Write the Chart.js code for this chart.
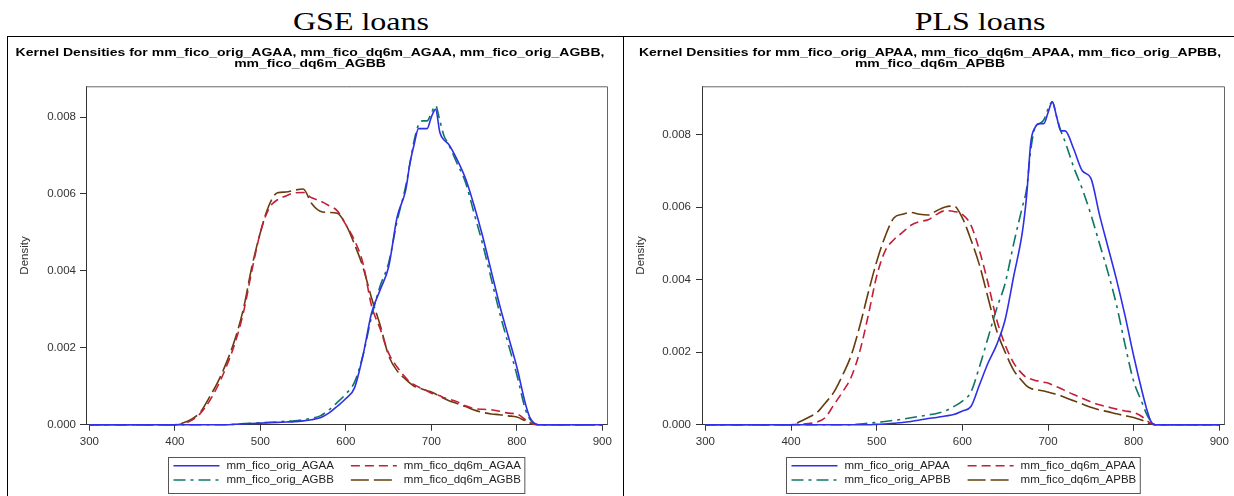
<!DOCTYPE html>
<html lang="en">
<head>
<meta charset="UTF-8">
<title>Kernel densities: GSE vs PLS loans</title>
<script src="https://cdn.jsdelivr.net/npm/chart.js"></script>
<style>
  body { margin: 0; background: #fff; }
  #page { position: relative; width: 1234px; height: 496px; overflow: hidden; }
  .hdr {
    position: absolute; top: 7px;
    font-family: "Liberation Serif", "Times New Roman", serif;
    font-size: 32px; line-height: 36px; white-space: nowrap; color: #000;
    transform-origin: 50% 0; transform: translateX(-50%) scaleY(0.8);
  }
  .ttl {
    position: absolute; top: 46px;
    font-family: "Liberation Sans", Arial, Helvetica, sans-serif;
    font-size: 14px; font-weight: bold; line-height: 14.4px; text-align: center;
    white-space: nowrap; color: #000;
    transform-origin: 50% 0; transform: translateX(-50%) scaleY(0.8);
  }
  .rule { position: absolute; background: #000; }
  canvas { position: absolute; top: 37px; height: 459px; }
</style>
</head>
<body>
<div id="page">
  <div class="hdr" style="left:361px">GSE loans</div>
  <div class="hdr" style="left:980px">PLS loans</div>
  <div class="rule" style="left:7px;top:36px;width:1227px;height:1px"></div>
  <div class="rule" style="left:7px;top:36px;width:1px;height:460px"></div>
  <div class="rule" style="left:623px;top:36px;width:1px;height:460px"></div>
  <canvas id="gse" width="614" height="459" style="left:8px;width:614px"></canvas>
  <canvas id="pls" width="610" height="459" style="left:624px;width:610px"></canvas>
  <div class="ttl" id="gseTitle" style="left:310px"></div>
  <div class="ttl" id="plsTitle" style="left:930px"></div>
</div>

<script>
// FICO grid the curves were read at
const ficoGrid = [300, 400,
  410, 420, 430, 440, 450, 460, 470, 480, 490, 500,
  510, 520, 530, 540, 550, 560, 570, 580, 590, 600,
  610, 620, 630, 640, 650, 660,
  670, 675, 680, 685, 690, 695, 700, 705, 710, 715, 720,
  730, 740, 750, 760, 770, 780, 790, 800,
  810, 815, 820, 825, 830, 900];

// GSE loans
const gseOrigAGAA = [0, 0,
  0, 0, 0, 0, 0, 0, 0.00001, 0.00002, 0.00003, 0.00004,
  0.00005, 0.00006, 0.00007, 0.00008, 0.0001, 0.00013, 0.00018, 0.0003, 0.00048, 0.00068,
  0.00095, 0.0018, 0.0029, 0.0035, 0.0041, 0.0054,
  0.0061, 0.0068, 0.0073, 0.0077, 0.0077, 0.0077, 0.008, 0.0082, 0.0076, 0.0074, 0.0073,
  0.0069, 0.0064, 0.0057, 0.0049, 0.004, 0.0031, 0.0023, 0.0015,
  0.00055, 0.0002, 0.00005, 0, 0, 0];
const gseDq6mAGAA = [0, 0,
  0.00003, 0.00012, 0.0003, 0.0006, 0.001, 0.0015, 0.0021, 0.0029, 0.004, 0.005,
  0.00562, 0.00585, 0.00595, 0.00603, 0.00604, 0.0059, 0.00582, 0.0057, 0.00556, 0.0052,
  0.0048, 0.0042, 0.0031, 0.0025, 0.00186, 0.0015,
  0.00122, 0.0011, 0.00104, 0.00098, 0.00092, 0.00088, 0.00082, 0.00079, 0.00075, 0.0007, 0.00067,
  0.0006, 0.00049, 0.00042, 0.0004, 0.00039, 0.00035, 0.0003, 0.00028,
  0.00013, 0.00006, 0.00001, 0, 0, 0];
const gseOrigAGBB = [0, 0,
  0, 0, 0, 0, 0, 0, 0.00001, 0.00003, 0.00004, 0.00005,
  0.00006, 0.00007, 0.00009, 0.0001, 0.00013, 0.00017, 0.00023, 0.00038, 0.00058, 0.0008,
  0.0011, 0.0018, 0.0028, 0.0036, 0.0042, 0.0053,
  0.0062, 0.0068, 0.0074, 0.0078, 0.0079, 0.0079, 0.0081, 0.0083, 0.0079, 0.0075, 0.0073,
  0.0068, 0.0063, 0.0055, 0.0047, 0.0038, 0.0029, 0.0021, 0.0013,
  0.0004, 0.00015, 0.00003, 0, 0, 0];
const gseDq6mAGBB = [0, 0,
  0.00005, 0.00015, 0.00033, 0.0007, 0.0011, 0.0016, 0.0022, 0.003, 0.0041, 0.005,
  0.0057, 0.00603, 0.00605, 0.0061, 0.00613, 0.00575, 0.00555, 0.00552, 0.0055, 0.0052,
  0.0047, 0.0041, 0.0033, 0.0026, 0.0018, 0.0014,
  0.00118, 0.00108, 0.001, 0.00096, 0.00092, 0.00088, 0.00085, 0.0008, 0.00074, 0.00068, 0.00063,
  0.00055, 0.00047, 0.00038, 0.00032, 0.00028, 0.00026, 0.00023, 0.0002,
  0.0001, 0.00005, 0.00001, 0, 0, 0];

// PLS loans
const plsOrigAPAA = [0, 0,
  0, 0, 0, 0, 0, 0, 0, 0, 0, 0.00001,
  0.00002, 0.00004, 0.00006, 0.00009, 0.00013, 0.00017, 0.0002, 0.00024, 0.00028, 0.00038,
  0.0005, 0.0011, 0.0017, 0.0022, 0.0029, 0.0041,
  0.0053, 0.0063, 0.0078, 0.0082, 0.0083, 0.0083, 0.0086, 0.0089, 0.0085, 0.0081, 0.0081,
  0.0076, 0.007, 0.0068, 0.0058, 0.0049, 0.004, 0.003, 0.0019,
  0.0009, 0.00045, 0.0001, 0, 0, 0];
const plsDq6mAPAA = [0, 0,
  0.00001, 0.00003, 0.00007, 0.0002, 0.00055, 0.0009, 0.0013, 0.002, 0.003, 0.0041,
  0.0048, 0.0051, 0.0053, 0.0055, 0.0056, 0.00565, 0.0058, 0.0059, 0.00588, 0.0058,
  0.0055, 0.0048, 0.0039, 0.0029, 0.0022, 0.0017,
  0.0014, 0.0013, 0.00126, 0.00122, 0.0012, 0.00117, 0.00115, 0.0011, 0.00105, 0.001, 0.00094,
  0.00083, 0.00073, 0.00063, 0.00055, 0.00049, 0.00043, 0.00038, 0.00034,
  0.00022, 0.00012, 0.00004, 0, 0, 0];
const plsOrigAPBB = [0, 0,
  0, 0, 0, 0, 0, 0, 0, 0.00002, 0.00004, 0.00006,
  0.00009, 0.00012, 0.00015, 0.00019, 0.00023, 0.00027, 0.00031, 0.00038, 0.0005, 0.00065,
  0.0009, 0.0016, 0.0024, 0.0032, 0.0039, 0.005,
  0.006, 0.0065, 0.0076, 0.0082, 0.0083, 0.0084, 0.0087, 0.0089, 0.0085, 0.0081, 0.0078,
  0.0071, 0.0065, 0.0058, 0.005, 0.0042, 0.0033, 0.0022, 0.0012,
  0.0006, 0.0003, 0.0001, 0, 0, 0];
const plsDq6mAPBB = [0, 0,
  0.00008, 0.0002, 0.00033, 0.0006, 0.0009, 0.00136, 0.0019, 0.0027, 0.00363, 0.0045,
  0.0052, 0.0057, 0.0058, 0.00585, 0.0058, 0.00578, 0.0059, 0.006, 0.00603, 0.0057,
  0.0051, 0.0044, 0.0035, 0.0026, 0.002, 0.0015,
  0.0012, 0.00107, 0.001, 0.00097, 0.00095, 0.00093, 0.0009, 0.00087, 0.00083, 0.0008, 0.00075,
  0.00066, 0.00057, 0.00048, 0.00041, 0.00036, 0.0003, 0.00025, 0.0002,
  0.00012, 0.00006, 0.00002, 0, 0, 0];

const xTicks = [300, 400, 500, 600, 700, 800, 900];
const yTicks = [0, 0.002, 0.004, 0.006, 0.008];

const FONT = '"Liberation Sans", Arial, Helvetica, sans-serif';
const TOP = 37;                 // page y of the canvases
const Y = a => a - TOP;         // page y -> canvas y

const lineStyles = [
  { color: '#2f2fe8', dash: [] },
  { color: '#c41e3a', dash: [9, 5] },
  { color: '#0f7565', dash: [12, 5, 3, 5] },
  { color: '#663c0c', dash: [18, 5] }
];

// top and right edges of the plot frame
const frameEdges = {
  id: 'frameEdges',
  afterDatasetsDraw(chart) {
    const { ctx, chartArea: a } = chart;
    ctx.save();
    ctx.strokeStyle = '#666';
    ctx.lineWidth = 1;
    ctx.beginPath();
    ctx.moveTo(a.left, a.top + 0.5);
    ctx.lineTo(a.right + 0.5, a.top + 0.5);
    ctx.lineTo(a.right + 0.5, a.bottom);
    ctx.stroke();
    ctx.restore();
  }
};

// boxed two-column legend under the axis
const boxLegend = {
  id: 'boxLegend',
  afterDraw(chart) {
    const { ctx, chartArea: a } = chart;
    const ds = chart.data.datasets;
    ctx.save();
    ctx.font = '11.5px ' + FONT;
    const sw = 46, gap = 7, padX = 5;
    const w0 = Math.max(ctx.measureText(ds[0].label).width, ctx.measureText(ds[2].label).width);
    const w1 = Math.max(ctx.measureText(ds[1].label).width, ctx.measureText(ds[3].label).width);
    const col2 = padX + sw + gap + w0 + 12;
    const boxW = col2 + sw + gap + w1 + 9;
    const x0 = Math.round((a.left + a.right) / 2 - boxW / 2) + 0.5;
    const top = Math.round(Y(457)) + 0.5, bot = Math.round(Y(493)) + 0.5;
    const rows = [Y(465.7), Y(480)];

    ctx.strokeStyle = '#555';
    ctx.lineWidth = 1;
    ctx.setLineDash([]);
    ctx.strokeRect(x0, top, boxW, bot - top);

    ds.forEach((d, i) => {
      const sx = x0 + padX + (i % 2 ? col2 : 0);
      const y = rows[Math.floor(i / 2)];
      ctx.strokeStyle = d.borderColor;
      ctx.lineWidth = d.borderWidth;
      ctx.setLineDash(d.borderDash || []);
      ctx.beginPath();
      ctx.moveTo(sx, y);
      ctx.lineTo(sx + sw, y);
      ctx.stroke();
      ctx.setLineDash([]);
      ctx.fillStyle = '#222';
      ctx.textBaseline = 'middle';
      ctx.textAlign = 'left';
      ctx.fillText(d.label, sx + sw + gap, y);
    });
    ctx.restore();
  }
};

function makeChart(id, title, labels, series, yMax, padRight, yTickPad) {
  const canvas = document.getElementById(id);
  document.getElementById(id + 'Title').innerHTML = title.join('<br>');
  const areaTop = Y(86.3), areaBot = Y(424.7);
  const xTickLen = 6;
  const xh = 32;
  const tickFont = { family: FONT, size: 11.5 };

  return new Chart(canvas, {
    type: 'line',
    data: {
      datasets: series.map((vals, i) => ({
        label: labels[i],
        data: ficoGrid.map((x, j) => ({ x: x, y: vals[j] })),
        borderColor: lineStyles[i].color,
        borderDash: lineStyles[i].dash,
        borderWidth: 1.6,
        pointRadius: 0,
        fill: false,
        cubicInterpolationMode: 'monotone',
        clip: false
      }))
    },
    options: {
      responsive: false,
      devicePixelRatio: 1,
      animation: false,
      layout: { padding: { left: 0, right: padRight, top: areaTop, bottom: canvas.height - areaBot - xh } },
      plugins: {
        legend: { display: false },
        tooltip: { enabled: false },
        title: { display: false }
      },
      scales: {
        x: {
          type: 'linear',
          min: 296,
          max: 905.5,
          afterBuildTicks: s => { s.ticks = xTicks.map(v => ({ value: v })); },
          afterFit: s => { s.height = xh; s.paddingLeft = 0; s.paddingRight = 0; },
          ticks: { color: '#333', font: tickFont, padding: Y(441.7) - areaBot - xTickLen - 6.9, maxRotation: 0 },
          grid: { drawOnChartArea: false, drawTicks: true, tickLength: xTickLen, color: '#333' },
          border: { display: true, color: '#333', width: 1 }
        },
        y: {
          min: 0,
          max: yMax,
          afterBuildTicks: s => { s.ticks = yTicks.map(v => ({ value: v })); },
          afterFit: s => { s.width = 78; s.paddingTop = 0; },
          ticks: { color: '#333', font: tickFont, padding: yTickPad, callback: v => v.toFixed(3) },
          grid: { drawOnChartArea: false, drawTicks: true, tickLength: 6, color: '#333' },
          border: { display: true, color: '#333', width: 1 },
          title: { display: true, text: 'Density', color: '#333', font: { family: FONT, size: 11.5 }, padding: { top: 10, bottom: 0 } }
        }
      }
    },
    plugins: [frameEdges, boxLegend]
  });
}

makeChart('gse',
  ['Kernel Densities for mm_fico_orig_AGAA, mm_fico_dq6m_AGAA, mm_fico_orig_AGBB,', 'mm_fico_dq6m_AGBB'],
  ['mm_fico_orig_AGAA', 'mm_fico_dq6m_AGAA', 'mm_fico_orig_AGBB', 'mm_fico_dq6m_AGBB'],
  [gseOrigAGAA, gseDq6mAGAA, gseOrigAGBB, gseDq6mAGBB],
  0.0088, 15, 4);

makeChart('pls',
  ['Kernel Densities for mm_fico_orig_APAA, mm_fico_dq6m_APAA, mm_fico_orig_APBB,', 'mm_fico_dq6m_APBB'],
  ['mm_fico_orig_APAA', 'mm_fico_dq6m_APAA', 'mm_fico_orig_APBB', 'mm_fico_dq6m_APBB'],
  [plsOrigAPAA, plsDq6mAPAA, plsOrigAPBB, plsDq6mAPBB],
  0.00933, 10, 5);
</script>
</body>
</html>
